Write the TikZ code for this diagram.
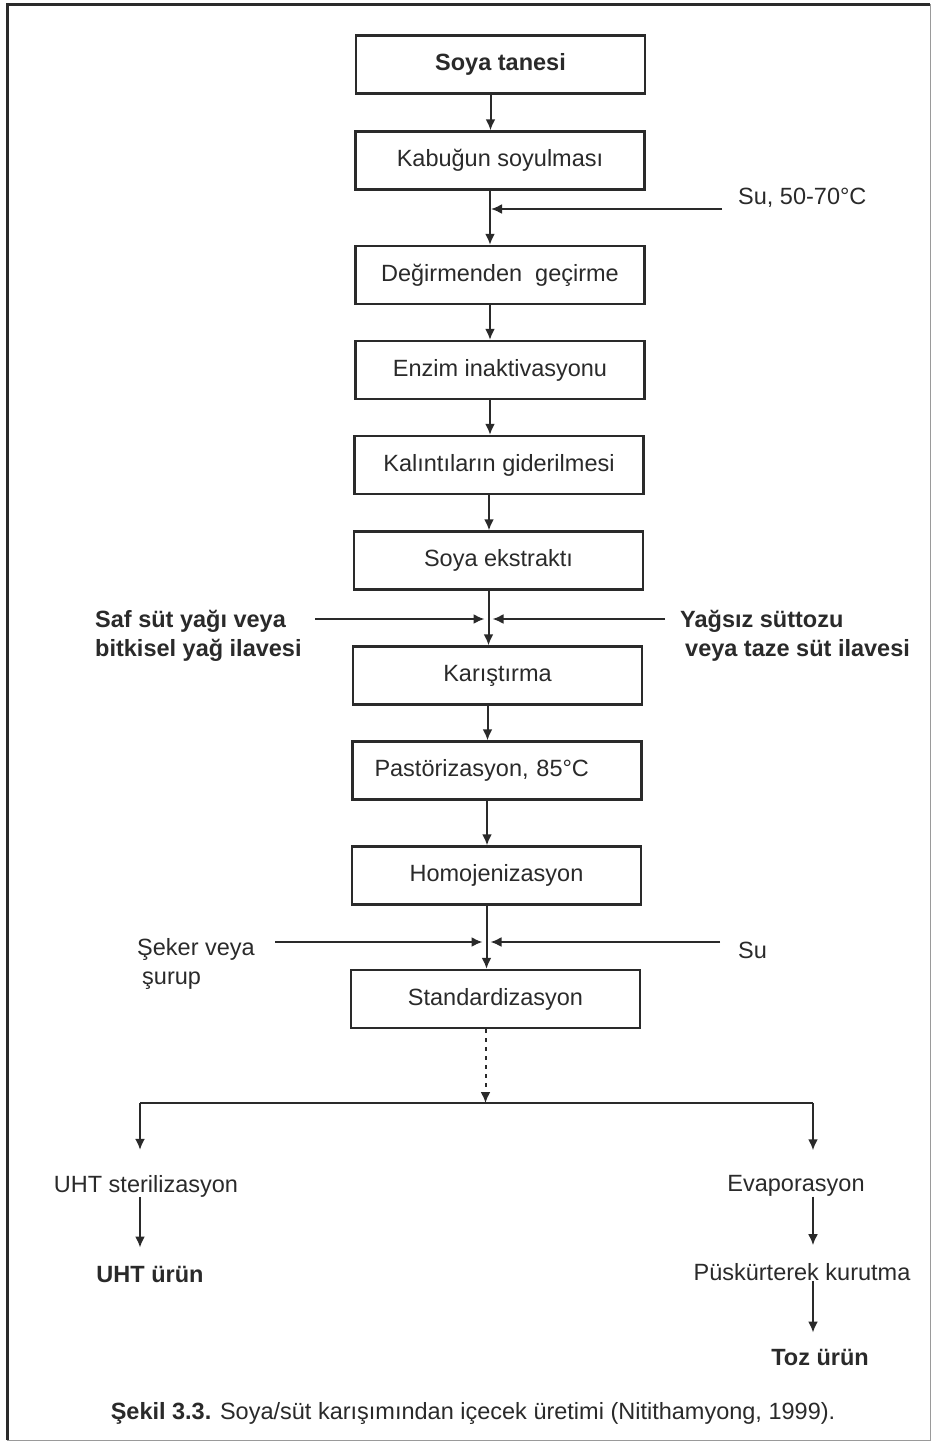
\documentclass[tikz,border=0pt]{standalone}
\usepackage{fontspec}
\setmainfont{Liberation Sans}
\usetikzlibrary{arrows.meta}
\definecolor{ink}{HTML}{2A2A2A}
\definecolor{frame}{HTML}{9A9A9A}

\begin{document}
\begin{tikzpicture}[x=1pt,y=-1pt,
  every node/.style={font=\fontsize{23.5}{29}\selectfont, text=ink},
  boldtxt/.style={font=\fontsize{23.5}{29}\selectfont\bfseries},
  stepbox/.style={draw=ink, line width=2.4pt, minimum width=289pt, minimum height=58pt, inner sep=0pt},
  lbl/.style={inner sep=0pt},
  link/.style={draw=ink, line width=2pt},
  flow/.style={link, -{Latex[length=11pt,width=10pt]}},
  dotflow/.style={flow, dash pattern=on 4pt off 5pt}]

% page and frame
\fill[white] (0,0) rectangle (936,1444);
\useasboundingbox (0,0) rectangle (936,1444);
\draw[ink, line width=3pt] (7,1440) -- (7,4) -- (930,4);
\draw[frame, line width=1pt] (930,4) -- (930,1440) -- (7,1440);

% process steps
\node[stepbox, boldtxt] (b1) at (500.5,64.5) {Soya tanesi};
\node[stepbox] (b2) at (500,160.5) {Kabuğun soyulması};
\node[stepbox] (b3) at (500,275) {Değirmenden\ \ geçirme};
\node[stepbox] (b4) at (500,370) {Enzim inaktivasyonu};
\node[stepbox] (b5) at (499,465) {Kalıntıların giderilmesi};
\node[stepbox] (b6) at (498.5,560.5) {Soya ekstraktı};
\node[stepbox] (b7) at (497.5,675.5) {Karıştırma};
\node[stepbox, text width=245pt, inner xsep=22pt, align=left] (b8) at (497,770.5) {Pastörizasyon, 85°C};
\node[stepbox] (b9) at (496.5,875.5) {Homojenizasyon};
\node[stepbox] (b10) at (495.5,999) {Standardizasyon};

% main flow line, slightly left of the box centres
\foreach \i in {1,...,10} {\coordinate (s\i) at ([xshift=-10pt]b\i.south);}
\draw[flow] (s1) -- (s1 |- b2.north);
\draw[flow] (s2) -- (s2 |- b3.north);
\draw[flow] (s3) -- (s3 |- b4.north);
\draw[flow] (s4) -- (s4 |- b5.north);
\draw[flow] (s5) -- (s5 |- b6.north);
\draw[flow] (s6) -- (s6 |- b7.north);
\draw[flow] (s7) -- (s7 |- b8.north);
\draw[flow] (s8) -- (s8 |- b9.north);
\draw[flow] (s9) -- (s9 |- b10.north);

% water feed before milling
\node[lbl, anchor=west] (su1) at (738,198) {Su, 50-70°C};
\coordinate (su1in) at (722,209);
\draw[flow, shorten >=1pt] (su1in) -- (su1in -| s2);

% fat and milk additions before mixing
\node[lbl, boldtxt, anchor=west, align=left] (fat) at (95,635.5) {Saf süt yağı veya\\bitkisel yağ ilavesi};
\node[lbl, boldtxt, anchor=west, align=left] (milk) at (680,635.5) {Yağsız süttozu\\\hspace{5pt}veya taze süt ilavesi};
\coordinate (fatin) at (315,619);
\coordinate (milkin) at (665,619);
\draw[flow, shorten >=4pt] (fatin) -- (fatin -| s6);
\draw[flow, shorten >=4pt] (milkin) -- (milkin -| s6);

% sugar and water additions before standardisation
\node[lbl, anchor=west, align=left] (sugar) at (137,964) {Şeker veya\\\hspace{5pt}şurup};
\node[lbl, anchor=west] (su2) at (738,950) {Su};
\coordinate (sugarin) at (275,942);
\coordinate (su2in) at (720,942);
\draw[flow, shorten >=4pt] (sugarin) -- (sugarin -| s9);
\draw[flow, shorten >=4pt] (su2in) -- (su2in -| s9);

% split into the two product lines
\coordinate (split) at (s10 |- 0,1103);
\coordinate (lsplit) at (140,1103);
\coordinate (rsplit) at (813,1103);
\draw[dotflow] (s10) -- (split);
\draw[link] (lsplit) -- (rsplit);

\node[lbl] (uhts) at (146,1186) {UHT sterilizasyon};
\node[lbl, boldtxt] (uhtp) at (150,1274) {UHT ürün};
\node[lbl] (evap) at (796,1186) {Evaporasyon};
\node[lbl] (spray) at (802,1272) {Püskürterek kurutma};
\node[lbl, boldtxt] (toz) at (820,1357) {Toz ürün};

\draw[flow, shorten >=25pt] (lsplit) -- (lsplit |- uhts.north);
\draw[flow, shorten >=25pt] (rsplit) -- (rsplit |- evap.north);
\draw[flow, shorten >=18pt] (uhts.south -| lsplit) -- (uhtp.north -| lsplit);
\draw[flow, shorten >=18pt] (evap.south -| rsplit) -- (spray.north -| rsplit);
\draw[flow, shorten >=16pt] (spray.south -| rsplit) -- (toz.north -| rsplit);

% caption
\node[lbl] (caption) at (473,1413) {\textbf{Şekil 3.3.} Soya/süt karışımından içecek üretimi (Nitithamyong, 1999).};
\end{tikzpicture}
\end{document}
